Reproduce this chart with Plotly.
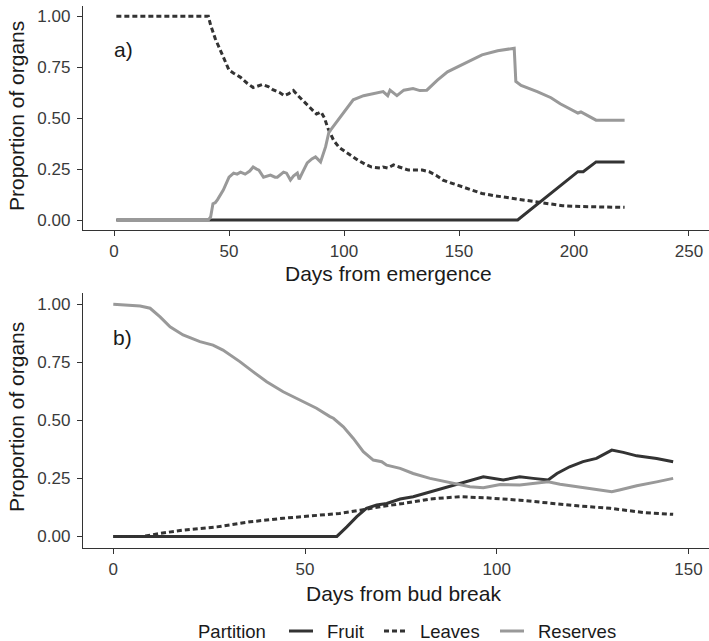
import plotly.graph_objects as go

# ---------------- data: panel a (days from emergence) ----------------
a_fruit_days = [1, 175.5, 201.7, 204, 209.6, 222]
a_fruit_vals = [0, 0, 0.237, 0.237, 0.285, 0.285]

a_leaves_days = [1, 41, 42, 44, 47.5, 50, 52, 55, 58, 60.5, 62, 64.5, 67, 69, 72, 74, 76, 78, 80,
                 83, 86, 88, 90, 91.5, 93, 95.5, 98, 100, 103, 106, 109, 112, 116, 117, 119, 121.5,
                 124, 128, 134, 137, 140, 143, 147, 152, 156, 160, 165, 172, 180, 186, 195, 203, 210, 222]
a_leaves_vals = [1.0, 1.0, 0.956, 0.89, 0.80, 0.735, 0.72, 0.70, 0.67, 0.65, 0.655, 0.665, 0.655, 0.64,
                 0.625, 0.61, 0.62, 0.635, 0.61, 0.575, 0.545, 0.52, 0.53, 0.50, 0.45, 0.39, 0.355, 0.34,
                 0.315, 0.294, 0.275, 0.26, 0.255, 0.26, 0.255, 0.27, 0.26, 0.245, 0.245, 0.237, 0.22,
                 0.196, 0.18, 0.162, 0.145, 0.13, 0.12, 0.108, 0.095, 0.085, 0.07, 0.066, 0.064, 0.062]

a_res_days = [1, 41, 42, 43, 44, 45, 47.5, 50, 52, 53.5, 55, 57, 59, 60.5, 62, 63, 65, 66.5, 68, 70, 71,
              73.7, 75, 76.7, 78, 79.7, 80.5, 82, 84, 86, 87.6, 89.8, 92, 93.4, 96.3, 99.3, 104, 108.5,
              113, 117, 119, 120, 123, 126, 130, 133, 136, 140.6, 145, 150.8, 155, 160, 166.8, 174,
              174.7, 177, 184, 190, 194, 201.7, 203, 209.6, 222]
a_res_vals = [0, 0, 0.015, 0.08, 0.085, 0.10, 0.147, 0.21, 0.23, 0.225, 0.235, 0.225, 0.24, 0.26, 0.25,
              0.245, 0.21, 0.215, 0.22, 0.21, 0.21, 0.235, 0.23, 0.196, 0.215, 0.23, 0.20, 0.235, 0.28,
              0.30, 0.31, 0.285, 0.36, 0.43, 0.475, 0.52, 0.59, 0.61, 0.62, 0.63, 0.61, 0.637, 0.61,
              0.637, 0.645, 0.635, 0.637, 0.686, 0.727, 0.76, 0.785, 0.81, 0.83, 0.843, 0.68, 0.66,
              0.63, 0.60, 0.57, 0.525, 0.53, 0.49, 0.49]

# ---------------- data: panel b (days from bud break) ----------------
b_fruit_days = [0, 58.3, 60.9, 63.5, 66, 68.7, 71.3, 74.8, 78.2, 82.6, 87, 91.2, 96.5, 101.7, 106,
                109.5, 113.4, 115.7, 119, 122.5, 126, 130, 133, 136.5, 141.7, 146]
b_fruit_vals = [0, 0, 0.041, 0.085, 0.121, 0.135, 0.142, 0.161, 0.171, 0.192, 0.214, 0.235, 0.257,
                0.243, 0.257, 0.25, 0.243, 0.271, 0.30, 0.322, 0.336, 0.372, 0.362, 0.347, 0.336, 0.322]

b_leaves_days = [0, 7.8, 12.2, 18.2, 27, 35.7, 44.3, 53, 59, 64.4, 69.6, 75.6, 82.6, 90.4, 97.4, 106,
                 112, 121, 129.6, 138.3, 146]
b_leaves_vals = [0, 0, 0.013, 0.027, 0.041, 0.063, 0.078, 0.092, 0.099, 0.113, 0.128, 0.142, 0.161,
                 0.171, 0.166, 0.156, 0.146, 0.132, 0.121, 0.103, 0.095]

b_res_days = [0, 7, 9.6, 12.2, 14.8, 18.2, 22.6, 26, 28.6, 33, 36.5, 40, 44.3, 48.7, 53, 56.5, 57.4,
              60, 62.6, 65.2, 67.8, 70, 71.3, 74.8, 78.2, 82.6, 87, 90.4, 93, 96.5, 100.9, 106, 109.5,
              113.4, 116.5, 121, 126, 130, 132, 136.5, 141.7, 146]
b_res_vals = [1.0, 0.993, 0.983, 0.946, 0.903, 0.868, 0.839, 0.824, 0.803, 0.753, 0.709, 0.666, 0.623,
              0.587, 0.552, 0.516, 0.509, 0.472, 0.422, 0.365, 0.329, 0.322, 0.307, 0.293, 0.271, 0.25,
              0.235, 0.221, 0.214, 0.21, 0.224, 0.221, 0.228, 0.235, 0.225, 0.214, 0.204, 0.192, 0.20,
              0.218, 0.235, 0.25]

y_ticks = [0, 0.25, 0.5, 0.75, 1.0]
y_ticktext = ["0.00", "0.25", "0.50", "0.75", "1.00"]
a_xticks = [0, 50, 100, 150, 200, 250]
b_xticks = [0, 50, 100, 150]

partitions = ["Fruit", "Leaves", "Reserves"]
colors = {"Fruit": "#333333", "Leaves": "#333333", "Reserves": "#999999"}
dashes = {"Fruit": "solid", "Leaves": "5px,3px", "Reserves": "solid"}
LW = 3

FONT = "Liberation Sans, Arial, Helvetica, sans-serif"
W, H = 709, 641
ML, MR, MT, MB = 83, 0, 6, 93
PW, PH = W - ML - MR, H - MT - MB


def px(sx):
    return (sx - ML) / PW


def py(sy):
    return (PH - (sy - MT)) / PH


fig = go.Figure()
panel_a = {"Fruit": (a_fruit_days, a_fruit_vals), "Leaves": (a_leaves_days, a_leaves_vals),
           "Reserves": (a_res_days, a_res_vals)}
panel_b = {"Fruit": (b_fruit_days, b_fruit_vals), "Leaves": (b_leaves_days, b_leaves_vals),
           "Reserves": (b_res_days, b_res_vals)}

for name in partitions:
    xs, ys = panel_a[name]
    fig.add_trace(go.Scatter(x=xs, y=ys, mode="lines", name=name, showlegend=False,
                             line=dict(color=colors[name], width=LW, dash=dashes[name]),
                             xaxis="x", yaxis="y"))
for name in partitions:
    xs, ys = panel_b[name]
    fig.add_trace(go.Scatter(x=xs, y=ys, mode="lines", name=name, showlegend=False,
                             line=dict(color=colors[name], width=LW, dash=dashes[name]),
                             xaxis="x2", yaxis="y2"))

axis_common = dict(showgrid=False, zeroline=False, showline=True, linecolor="#333333", linewidth=1.3,
                   ticks="outside", ticklen=5, tickwidth=1.2, tickcolor="#333333",
                   tickfont=dict(family=FONT, size=17, color="#3a3a3a"))

fig.update_layout(
    width=W, height=H,
    margin=dict(l=ML, r=MR, t=MT, b=MB),
    paper_bgcolor="white", plot_bgcolor="white",
    xaxis=dict(domain=[0, 1], anchor="y", range=[-13.5, 258.7], tickvals=a_xticks, **axis_common),
    yaxis=dict(domain=[py(230.2), 1.0], anchor="x", range=[-0.05, 1.05], tickvals=y_ticks,
               ticktext=y_ticktext, ticklabelstandoff=3, **axis_common),
    xaxis2=dict(domain=[0, 1], anchor="y2", range=[-7.9, 155.35], tickvals=b_xticks, **axis_common),
    yaxis2=dict(domain=[0.0, py(292.7)], anchor="x2", range=[-0.05, 1.05], tickvals=y_ticks,
                ticktext=y_ticktext, ticklabelstandoff=3, **axis_common),
    showlegend=False,
)

title_font = dict(family=FONT, size=21, color="#1a1a1a")
ann = []
# panel labels
ann.append(dict(x=-1, y=0.835, xref="x", yref="y", text="a)", showarrow=False, xanchor="left",
                yanchor="middle", font=title_font))
ann.append(dict(x=-0.5, y=0.857, xref="x2", yref="y2", text="b)", showarrow=False, xanchor="left",
                yanchor="middle", font=title_font))
# axis titles
ann.append(dict(x=px(388.5), y=py(273), xref="paper", yref="paper", text="Days from emergence",
                showarrow=False, xanchor="center", yanchor="middle", font=title_font))
ann.append(dict(x=px(403), y=py(593), xref="paper", yref="paper", text="Days from bud break",
                showarrow=False, xanchor="center", yanchor="middle", font=title_font))
ann.append(dict(x=px(16), y=py(116), xref="paper", yref="paper", text="Proportion of organs",
                textangle=-90, showarrow=False, xanchor="center", yanchor="middle", font=title_font))
ann.append(dict(x=px(16), y=py(417), xref="paper", yref="paper", text="Proportion of organs",
                textangle=-90, showarrow=False, xanchor="center", yanchor="middle", font=title_font))

# legend (drawn manually to mirror ggplot's bottom legend)
leg_font = dict(family=FONT, size=18.5, color="#1a1a1a")
leg_y = 631
ann.append(dict(x=px(196), y=py(leg_y), xref="paper", yref="paper", text="Partition",
                showarrow=False, xanchor="left", yanchor="middle", font=leg_font))
legend_items = [("Fruit", 289, 313, 325), ("Leaves", 384, 407, 418), ("Reserves", 500, 524, 536)]
shapes = []
for name, x0, x1, tx in legend_items:
    shapes.append(dict(type="line", xref="paper", yref="paper", x0=px(x0), x1=px(x1),
                       y0=py(leg_y), y1=py(leg_y),
                       line=dict(color=colors[name], width=LW, dash=dashes[name])))
    ann.append(dict(x=px(tx), y=py(leg_y), xref="paper", yref="paper", text=name,
                    showarrow=False, xanchor="left", yanchor="middle", font=leg_font))

fig.update_layout(annotations=ann, shapes=shapes)
fig.write_html("out.html", config={"displayModeBar": False},
               post_script="document.body.style.margin='0px';document.body.style.overflow='hidden';")
